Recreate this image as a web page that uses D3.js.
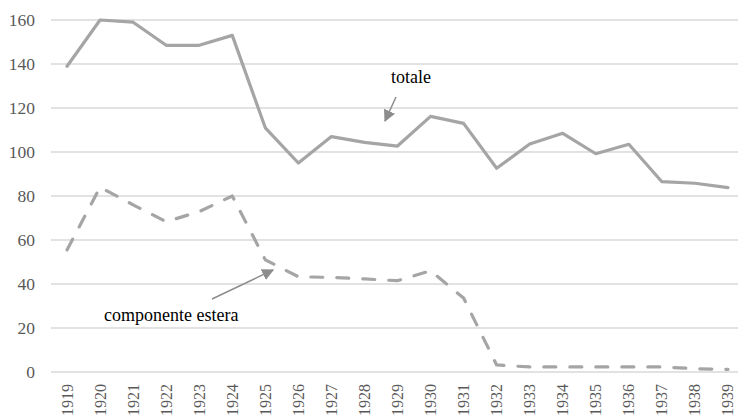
<!DOCTYPE html>
<html>
<head>
<meta charset="utf-8">
<script src="https://cdn.jsdelivr.net/npm/d3@7"></script>
<style>
  html, body { margin: 0; padding: 0; background: #fff; }
  svg { display: block; }
</style>
</head>
<body>
<svg id="chart" width="738" height="419"></svg>
<script>
const years = ["1919","1920","1921","1922","1923","1924","1925","1926","1927","1928","1929","1930","1931","1932","1933","1934","1935","1936","1937","1938","1939"];
const totale = [139, 160, 159, 148.5, 148.5, 153, 111, 95, 107, 104.4, 102.7, 116.2, 113, 92.6, 103.6, 108.5, 99.2, 103.5, 86.5, 85.8, 83.8];
const estera = [55.5, 84, 76, 68.3, 72.9, 80, 51, 43.3, 43, 42.3, 41.5, 46, 33.6, 3.2, 2.3, 2.3, 2.3, 2.3, 2.3, 1.5, 1.2];
const yTicks = [0, 20, 40, 60, 80, 100, 120, 140, 160];

const FONT = '"Liberation Serif", "Times New Roman", serif';
const svg = d3.select("#chart");
const W = 738;

const x = d3.scaleBand().domain(years).range([50.5, 744.5]);
const cx = d => x(d) + x.bandwidth() / 2;
const y = d3.scaleLinear().domain([0, 160]).range([372, 20]);

// gridlines
svg.append("g").selectAll("line").data(yTicks).join("line")
  .attr("x1", 51).attr("x2", W)
  .attr("y1", d => y(d)).attr("y2", d => y(d))
  .attr("stroke", "#d9d9d9").attr("stroke-width", 1.5);

// y labels
svg.append("g").selectAll("text").data(yTicks).join("text")
  .attr("x", 35).attr("y", d => y(d))
  .attr("text-anchor", "end").attr("dominant-baseline", "central")
  .style("font-family", FONT).style("font-size", "17.5px")
  .attr("fill", "#595959")
  .text(d => d);

// x labels
svg.append("g").selectAll("text").data(years).join("text")
  .attr("transform", d => `translate(${cx(d)},384) rotate(-90)`)
  .attr("text-anchor", "end").attr("dominant-baseline", "central")
  .style("font-family", FONT).style("font-size", "16px")
  .attr("fill", "#595959")
  .text(d => d);

const line = d3.line().x((d, i) => cx(years[i])).y(d => y(d));

svg.append("path").datum(totale)
  .attr("d", line).attr("fill", "none")
  .attr("stroke", "#a5a5a5").attr("stroke-width", 3.2)
  .attr("stroke-linejoin", "round").attr("stroke-linecap", "round");

svg.append("path").datum(estera)
  .attr("d", line).attr("fill", "none")
  .attr("stroke", "#a5a5a5").attr("stroke-width", 3.2)
  .attr("stroke-linejoin", "round").attr("stroke-linecap", "round")
  .attr("stroke-dasharray", "12,14");

// arrow marker
const defs = svg.append("defs");
defs.append("marker").attr("id", "arr")
  .attr("viewBox", "0 0 10 10").attr("refX", 9).attr("refY", 5)
  .attr("markerWidth", 12).attr("markerHeight", 12).attr("markerUnits", "userSpaceOnUse")
  .attr("orient", "auto")
  .append("path").attr("d", "M0,0 L10,5 L0,10 Z").attr("fill", "#8c8c8c");

svg.append("text").attr("x", 411).attr("y", 83)
  .attr("text-anchor", "middle")
  .style("font-family", FONT).style("font-size", "18px")
  .attr("fill", "#000").text("totale");
svg.append("line")
  .attr("x1", 396).attr("y1", 97).attr("x2", 385).attr("y2", 121)
  .attr("stroke", "#8c8c8c").attr("stroke-width", 1.5)
  .attr("marker-end", "url(#arr)");

svg.append("text").attr("x", 104).attr("y", 321)
  .attr("text-anchor", "start")
  .style("font-family", FONT).style("font-size", "18px")
  .attr("fill", "#000").text("componente estera");
svg.append("line")
  .attr("x1", 212).attr("y1", 299).attr("x2", 273).attr("y2", 270)
  .attr("stroke", "#8c8c8c").attr("stroke-width", 1.5)
  .attr("marker-end", "url(#arr)");
</script>
</body>
</html>
